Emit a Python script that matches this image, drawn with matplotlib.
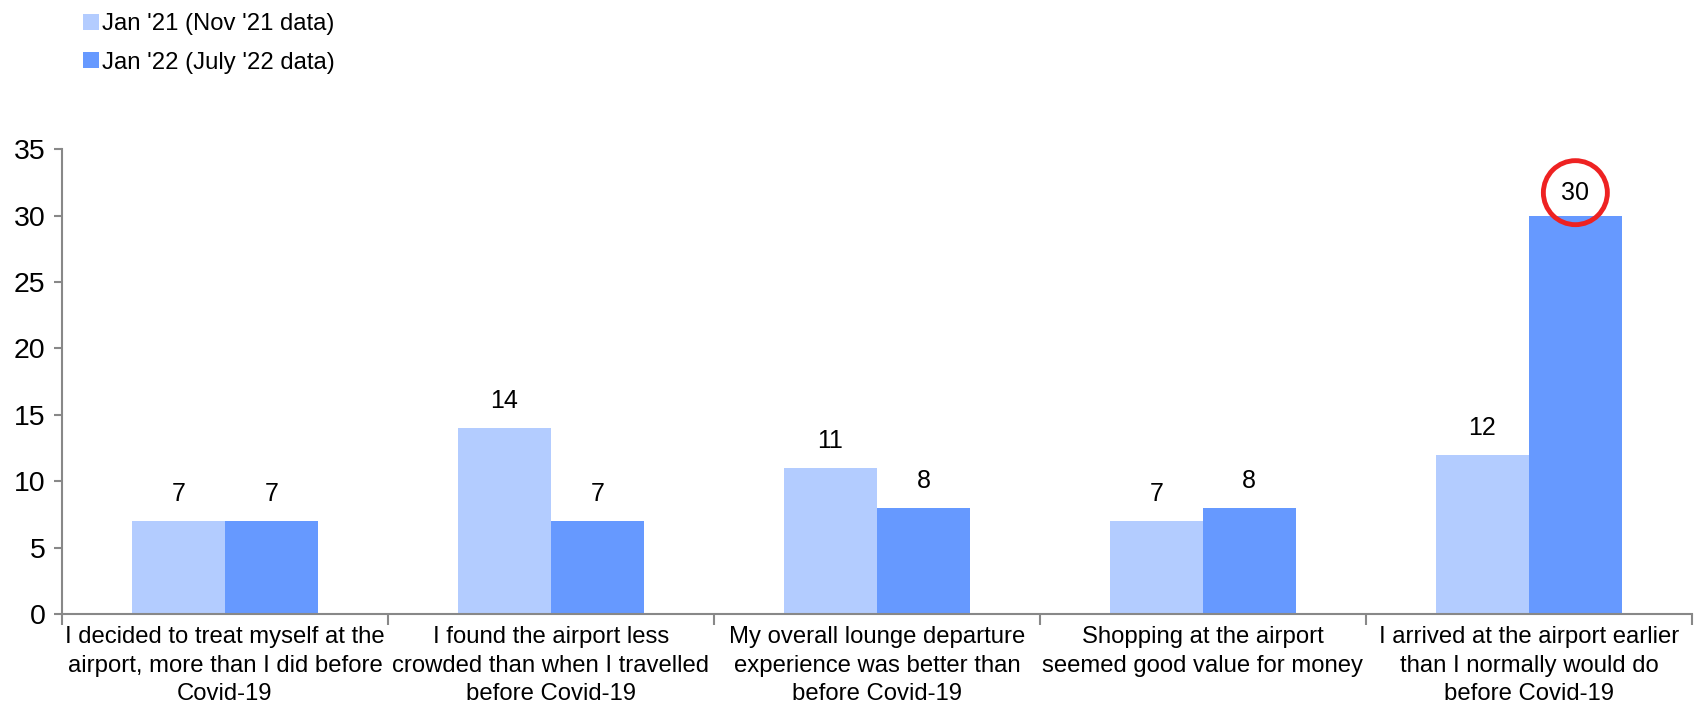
import matplotlib.pyplot as plt
import numpy as np

plt.rcParams['font.family'] = ['Liberation Sans', 'DejaVu Sans']

categories = [
    "I decided to treat myself at the\nairport, more than I did before\nCovid-19",
    "I found the airport less\ncrowded than when I travelled\nbefore Covid-19",
    "My overall lounge departure\nexperience was better than\nbefore Covid-19",
    "Shopping at the airport\nseemed good value for money",
    "I arrived at the airport earlier\nthan I normally would do\nbefore Covid-19",
]
series_names = ["Jan '21 (Nov '21 data)", "Jan '22 (July '22 data)"]
jan21 = [7, 14, 11, 7, 12]
jan22 = [7, 7, 8, 8, 30]
yticks = [0, 5, 10, 15, 20, 25, 30, 35]

light = '#B3CCFF'
dark = '#6699FF'

fig = plt.figure(figsize=(16.97, 7.07), dpi=100)
ax = fig.add_axes([0.0365, 0.1316, 0.9605, 0.6574])

x = np.arange(len(categories))
w = 0.285
b1 = ax.bar(x - w / 2, jan21, w, color=light, label=series_names[0])
b2 = ax.bar(x + w / 2, jan22, w, color=dark, label=series_names[1])

for bars in (b1, b2):
    for rect in bars:
        h = rect.get_height()
        cx = rect.get_x() + rect.get_width() / 2
        kw = {}
        off = 19.5
        if h == max(jan22) and bars is b2:
            # highlighted value
            kw['bbox'] = dict(boxstyle='circle,pad=0.72', fc='none', ec='#EE2222', lw=3.5)
            off = 16.5
        ax.annotate(f"{h:g}", (cx, h), xytext=(0, off), textcoords='offset points',
                    ha='center', va='center', fontsize=18, **kw)

ax.set_xlim(-0.5, len(categories) - 0.5)
ax.set_ylim(0, 35)
ax.set_yticks(yticks)
ax.tick_params(axis='y', labelsize=20.5, length=6, color='#888888', width=1.5, pad=6)

ax.set_xticks(x)
ax.set_xticklabels(categories, fontsize=17.2, linespacing=1.38)
ax.tick_params(axis='x', which='major', length=0, pad=9)
ax.set_xticks(np.arange(len(categories) + 1) - 0.5, minor=True)
ax.tick_params(axis='x', which='minor', length=8, color='#888888', width=1.5)

for s in ('top', 'right'):
    ax.spines[s].set_visible(False)
for s in ('left', 'bottom'):
    ax.spines[s].set_color('#888888')
    ax.spines[s].set_linewidth(1.5)

fig.legend(handles=[b1, b2], labels=series_names, loc='upper left',
           bbox_to_anchor=(0.0365, 1.012), frameon=False, fontsize=17.2,
           handlelength=0.65, handleheight=0.65, handletextpad=0.12,
           labelspacing=0.7)

fig.savefig('out.png', dpi=100)
